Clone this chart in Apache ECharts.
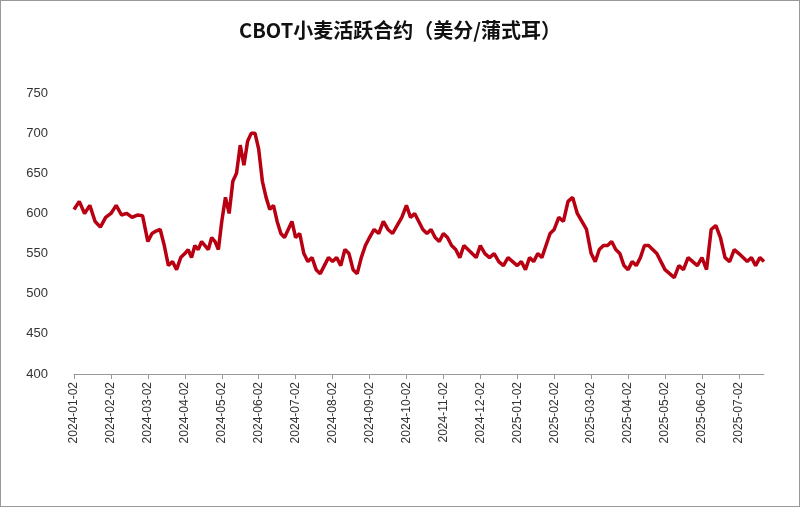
<!DOCTYPE html><html><head><meta charset="utf-8"><script src="https://cdn.jsdelivr.net/npm/echarts@6/dist/echarts.min.js"></script>
<style>body{margin:0}#c{width:800px;height:507px;box-sizing:border-box;border:1px solid #999}</style></head><body><div id="c"></div><script>
const months=["2024-01-02","2024-02-02","2024-03-02","2024-04-02","2024-05-02","2024-06-02","2024-07-02","2024-08-02","2024-09-02","2024-10-02","2024-11-02","2024-12-02","2025-01-02","2025-02-02","2025-03-02","2025-04-02","2025-05-02","2025-06-02","2025-07-02"];
const monthValues=[
[605,615,600,610,590,583,595],
[600,610,598,600,595,598,597],
[565,575,578,580,560,535,540,530,545],
[550,555,545,560,555,565,560,555,570,565,555],
[590,620,600,640,650,685,660,690,700,700],
[680,640,620,605,610,590,575,570,580,590],
[570,575,550,540,545,530,525,535,545],
[540,545,535,555,550,530,525,545,560],
[570,580,575,590,580,575,585,595],
[610,595,600,590,580,575,580,570,565],
[575,570,560,555,545,560,555,550,545],
[560,550,545,550,540,535,545,540],
[535,540,530,545,540,550,545,560,575],
[580,595,590,615,620,600,590,580],
[550,540,555,560,560,565,555,550,535],
[530,540,535,545,560,560,555,550,540],
[530,525,520,535,530,545,540,535],
[545,530,580,585,570,545,540,555],
[550,545,540,545,535,545,540]];
const lastMonthSpan=0.68;
const pts=[];
monthValues.forEach((arr,m)=>{const last=m===monthValues.length-1;arr.forEach((v,i)=>{const f=last?i*lastMonthSpan/(arr.length-1):i/arr.length;pts.push([m+f,v]);});});
echarts.init(document.getElementById('c')).setOption({
title:{text:'CBOT小麦活跃合约（美分/蒲式耳）',left:'center',top:14,textStyle:{fontSize:20,fontWeight:'bold',color:'#111',fontFamily:'Noto Sans CJK SC'}},
grid:{left:73,right:35,top:92,bottom:132},
xAxis:{type:'value',min:0,max:18+lastMonthSpan,interval:1,splitLine:{show:false},axisLine:{lineStyle:{color:'#999'}},axisTick:{show:true,lineStyle:{color:'#999'}},axisLabel:{showMaxLabel:false,rotate:90,color:'#333',fontSize:12,fontFamily:'Liberation Sans',formatter:v=>months[Math.round(v)]||''}},
yAxis:{type:'value',min:400,max:750,interval:50,splitLine:{show:false},axisLine:{show:false},axisTick:{show:false},axisLabel:{color:'#333',fontSize:13,margin:26,fontFamily:'Liberation Sans'}},
series:[{type:'line',data:pts,showSymbol:false,lineStyle:{color:'#B80012',width:3.5}}]
});
</script></body></html>
